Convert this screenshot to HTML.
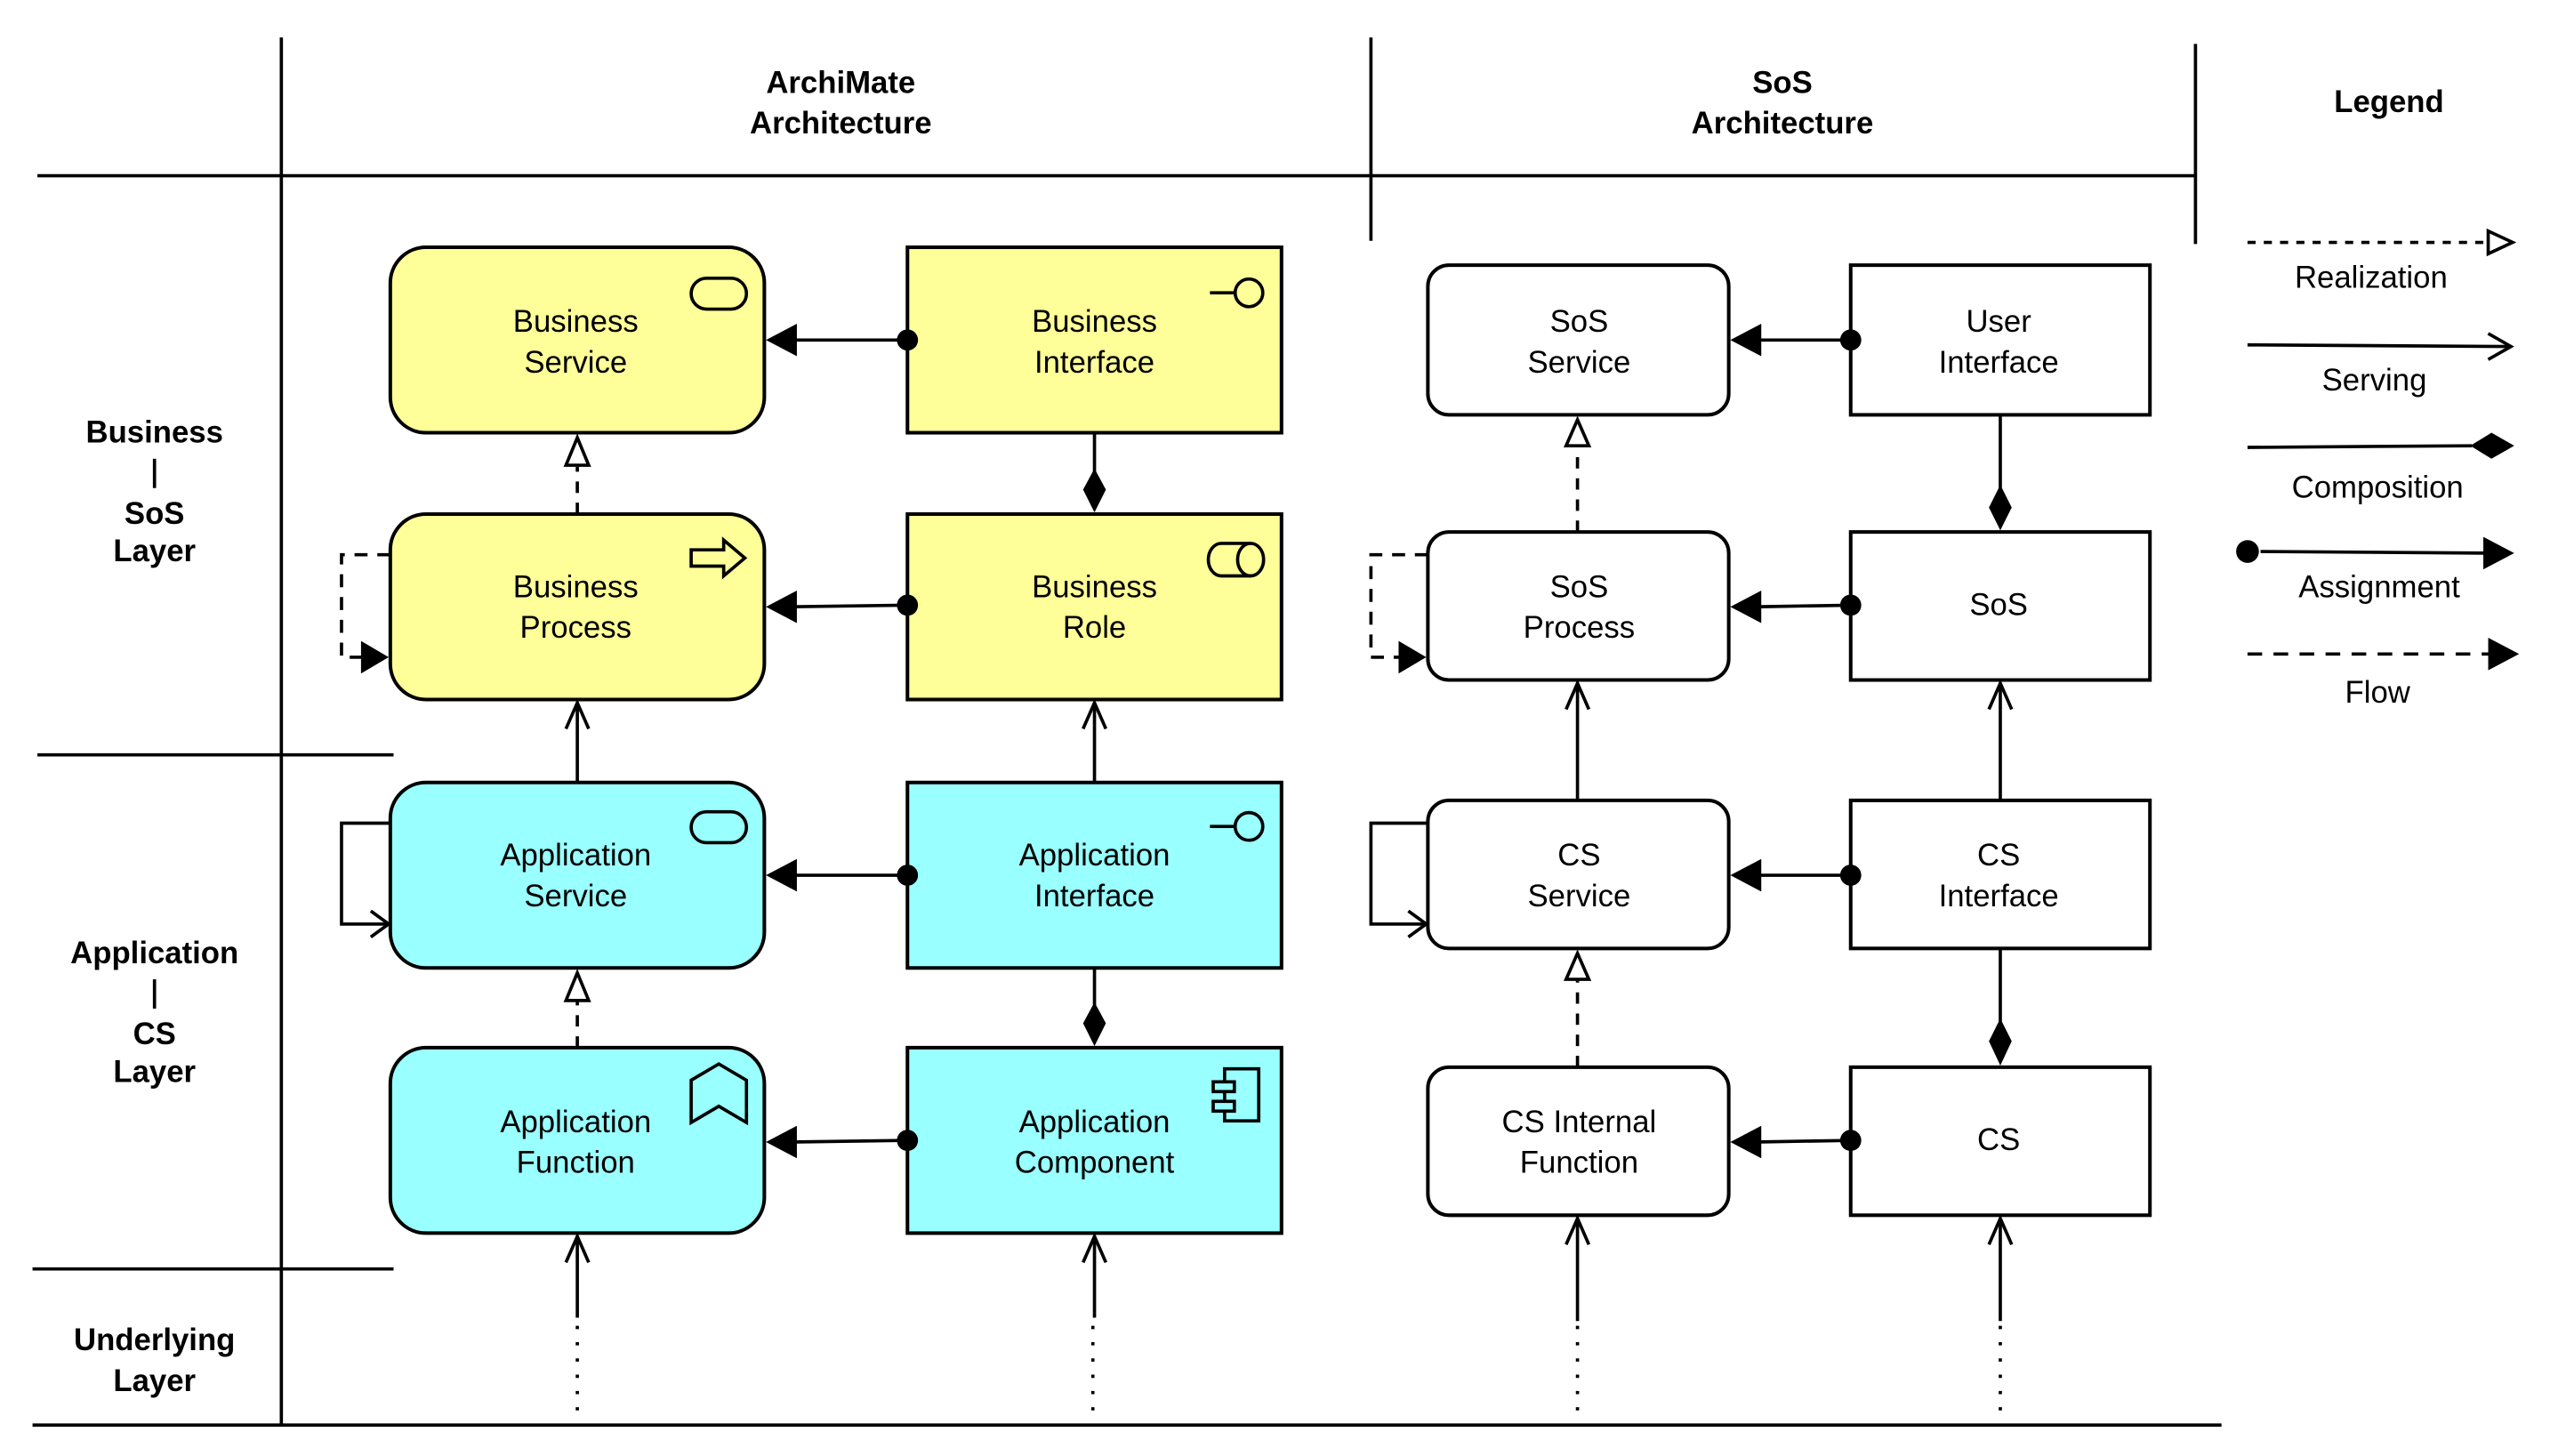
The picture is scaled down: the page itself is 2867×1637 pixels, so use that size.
<!DOCTYPE html>
<html><head><meta charset="utf-8"><style>
html,body{margin:0;padding:0;background:#fff;}
svg{display:block;}
text{font-family:"Liberation Sans",Arial,sans-serif;font-size:19px;fill:#000;text-anchor:middle;}
.b{font-weight:bold;}
</style></head><body>
<svg width="2867" height="1637" viewBox="0 0 1568 895" preserveAspectRatio="none" xmlns="http://www.w3.org/2000/svg">
<g stroke="#000" stroke-width="2" fill="none">
<!-- grid lines -->
<line x1="173" y1="23" x2="173" y2="876"/>
<line x1="843" y1="23" x2="843" y2="148"/>
<line x1="1350" y1="27" x2="1350" y2="150"/>
<line x1="23" y1="108" x2="1350" y2="108"/>
<line x1="23" y1="464" x2="242" y2="464"/>
<line x1="20" y1="780" x2="242" y2="780"/>
<line x1="20" y1="876" x2="1366" y2="876"/>
</g>
<!-- headers -->
<text class="b" x="517" y="57">ArchiMate</text>
<text class="b" x="517" y="82">Architecture</text>
<text class="b" x="1096" y="57">SoS</text>
<text class="b" x="1096" y="82">Architecture</text>
<text class="b" x="1469" y="69">Legend</text>
<text class="b" x="95" y="272">Business</text>
<line x1="95" y1="282" x2="95" y2="300" stroke="#000" stroke-width="2"/>
<text class="b" x="95" y="322">SoS</text>
<text class="b" x="95" y="345">Layer</text>
<text class="b" x="95" y="592">Application</text>
<line x1="95" y1="602" x2="95" y2="620" stroke="#000" stroke-width="2"/>
<text class="b" x="95" y="642">CS</text>
<text class="b" x="95" y="665">Layer</text>
<text class="b" x="95" y="830">Underlying</text>
<text class="b" x="95" y="855">Layer</text>

<!-- boxes -->
<g stroke="#000" stroke-width="2.2">
<rect x="240" y="152" width="230" height="114" rx="22" fill="#ffff99"/>
<rect x="558" y="152" width="230" height="114" fill="#ffff99"/>
<rect x="240" y="316" width="230" height="114" rx="22" fill="#ffff99"/>
<rect x="558" y="316" width="230" height="114" fill="#ffff99"/>
<rect x="240" y="481" width="230" height="114" rx="22" fill="#99ffff"/>
<rect x="558" y="481" width="230" height="114" fill="#99ffff"/>
<rect x="240" y="644" width="230" height="114" rx="22" fill="#99ffff"/>
<rect x="558" y="644" width="230" height="114" fill="#99ffff"/>
<rect x="878" y="163" width="185" height="92" rx="13" fill="#fff"/>
<rect x="1138" y="163" width="184" height="92" fill="#fff"/>
<rect x="878" y="327" width="185" height="91" rx="13" fill="#fff"/>
<rect x="1138" y="327" width="184" height="91" fill="#fff"/>
<rect x="878" y="492" width="185" height="91" rx="13" fill="#fff"/>
<rect x="1138" y="492" width="184" height="91" fill="#fff"/>
<rect x="878" y="656" width="185" height="91" rx="13" fill="#fff"/>
<rect x="1138" y="656" width="184" height="91" fill="#fff"/>
</g>
<!-- box text -->
<text x="354" y="204">Business</text><text x="354" y="229">Service</text>
<text x="673" y="204">Business</text><text x="673" y="229">Interface</text>
<text x="354" y="367">Business</text><text x="354" y="392">Process</text>
<text x="673" y="367">Business</text><text x="673" y="392">Role</text>
<text x="354" y="532">Application</text><text x="354" y="557">Service</text>
<text x="673" y="532">Application</text><text x="673" y="557">Interface</text>
<text x="354" y="696">Application</text><text x="354" y="721">Function</text>
<text x="673" y="696">Application</text><text x="673" y="721">Component</text>
<text x="971" y="204">SoS</text><text x="971" y="229">Service</text>
<text x="1229" y="204">User</text><text x="1229" y="229">Interface</text>
<text x="971" y="367">SoS</text><text x="971" y="392">Process</text>
<text x="1229" y="378">SoS</text>
<text x="971" y="532">CS</text><text x="971" y="557">Service</text>
<text x="1229" y="532">CS</text><text x="1229" y="557">Interface</text>
<text x="971" y="696">CS Internal</text><text x="971" y="721">Function</text>
<text x="1229" y="707">CS</text>

<!-- icons -->
<g stroke="#000" stroke-width="2" fill="none">
<rect x="425" y="171" width="34" height="19" rx="9.5"/>
<rect x="425" y="499" width="34" height="19" rx="9.5"/>
<line x1="744" y1="180" x2="759" y2="180"/><circle cx="768" cy="180" r="8.5"/>
<line x1="744" y1="508" x2="759" y2="508"/><circle cx="768" cy="508" r="8.5"/>
<path d="M425 338 h20 v-6 l13 11 l-13 11 v-6 h-20 z"/>
<path d="M751 334 h18 a8 10 0 0 1 0 20 h-18 a8 10 0 0 1 0 -20 z"/><path d="M769 334 a8 10 0 0 0 0 20"/>
<path d="M425 664 l17 -10 l17 10 v26 l-17 -10 l-17 10 z"/>
<rect x="753" y="657" width="21" height="32"/>
<rect x="746" y="665" width="13" height="6" fill="#99ffff"/>
<rect x="746" y="677" width="13" height="6" fill="#99ffff"/>
</g>

<g stroke="#000" stroke-width="2" fill="none">
<!-- assignment lines -->
<line x1="558" y1="209" x2="486" y2="209"/>
<line x1="558" y1="372" x2="486" y2="373"/>
<line x1="558" y1="538" x2="486" y2="538"/>
<line x1="558" y1="701" x2="486" y2="702"/>
<line x1="1138" y1="209" x2="1079" y2="209"/>
<line x1="1138" y1="372" x2="1079" y2="373"/>
<line x1="1138" y1="538" x2="1079" y2="538"/>
<line x1="1138" y1="701" x2="1079" y2="702"/>
<!-- composition lines -->
<line x1="673" y1="266" x2="673" y2="290"/>
<line x1="673" y1="595" x2="673" y2="618"/>
<line x1="1230" y1="255" x2="1230" y2="300"/>
<line x1="1230" y1="583" x2="1230" y2="628"/>
<!-- realization -->
<line x1="355" y1="316" x2="355" y2="287" stroke-dasharray="7,6"/>
<line x1="355" y1="644" x2="355" y2="615" stroke-dasharray="7,6"/>
<line x1="970" y1="327" x2="970" y2="275" stroke-dasharray="7,6"/>
<line x1="970" y1="656" x2="970" y2="603" stroke-dasharray="7,6"/>
<!-- serving -->
<line x1="355" y1="481" x2="355" y2="432"/>
<line x1="673" y1="481" x2="673" y2="432"/>
<line x1="970" y1="492" x2="970" y2="420"/>
<line x1="1230" y1="492" x2="1230" y2="420"/>
<line x1="355" y1="810" x2="355" y2="760"/>
<line x1="673" y1="810" x2="673" y2="760"/>
<line x1="970" y1="812" x2="970" y2="749"/>
<line x1="1230" y1="812" x2="1230" y2="749"/>
<!-- dotted -->
<g stroke-dasharray="2,8">
<line x1="355" y1="815" x2="355" y2="870"/>
<line x1="672" y1="815" x2="672" y2="870"/>
<line x1="970" y1="815" x2="970" y2="870"/>
<line x1="1230" y1="815" x2="1230" y2="870"/>
</g>
<!-- open arrowheads up -->
<path d="M348 448 L355 432 L362 448"/>
<path d="M666 448 L673 432 L680 448"/>
<path d="M963 436 L970 420 L977 436"/>
<path d="M1223 436 L1230 420 L1237 436"/>
<path d="M348 776 L355 760 L362 776"/>
<path d="M666 776 L673 760 L680 776"/>
<path d="M963 765 L970 749 L977 765"/>
<path d="M1223 765 L1230 749 L1237 765"/>
<!-- self loops -->
<path d="M240 341 H210 V404 H226" stroke-dasharray="8,6"/>
<path d="M878 341 H843 V404 H862" stroke-dasharray="8,6"/>
<path d="M240 506 H210 V568 H238"/>
<path d="M228 560 L239 568 L228 576"/>
<path d="M878 506 H843 V568 H876"/>
<path d="M866 560 L877 568 L866 576"/>
</g>
<!-- filled heads -->
<g fill="#000" stroke="none">
<circle cx="558" cy="209" r="6.5"/><circle cx="558" cy="372" r="6.5"/>
<circle cx="558" cy="538" r="6.5"/><circle cx="558" cy="701" r="6.5"/>
<circle cx="1138" cy="209" r="6.5"/><circle cx="1138" cy="372" r="6.5"/>
<circle cx="1138" cy="538" r="6.5"/><circle cx="1138" cy="701" r="6.5"/>
<path d="M471 209 L490 199 L490 219 z"/><path d="M471 373 L490 363 L490 383 z"/>
<path d="M471 538 L490 528 L490 548 z"/><path d="M471 702 L490 692 L490 712 z"/>
<path d="M1064 209 L1083 199 L1083 219 z"/><path d="M1064 373 L1083 363 L1083 383 z"/>
<path d="M1064 538 L1083 528 L1083 548 z"/><path d="M1064 702 L1083 692 L1083 712 z"/>
<path d="M673 288 L680 301 L673 315 L666 301 z"/>
<path d="M673 616 L680 629 L673 643 L666 629 z"/>
<path d="M1230 298 L1237 312 L1230 326 L1223 312 z"/>
<path d="M1230 626 L1237 640 L1230 655 L1223 640 z"/>
<path d="M239 404 L222 394 L222 414 z"/>
<path d="M877 404 L860 394 L860 414 z"/>
</g>
<g fill="#fff" stroke="#000" stroke-width="2">
<path d="M355 269 L362 286 L348 286 z"/>
<path d="M355 598 L362 615 L348 615 z"/>
<path d="M970 258 L977 274 L963 274 z"/>
<path d="M970 586 L977 602 L963 602 z"/>
</g>

<!-- legend -->
<g stroke="#000" stroke-width="2" fill="none">
<line x1="1382" y1="149" x2="1530" y2="149" stroke-dasharray="5,5"/>
<path d="M1530 142 L1545 149 L1530 156 z" fill="#fff"/>
<line x1="1382" y1="212" x2="1544" y2="213"/>
<path d="M1530 205 L1544 213 L1530 221"/>
<line x1="1382" y1="275" x2="1520" y2="274"/>
<line x1="1390" y1="339" x2="1530" y2="340"/>
<line x1="1382" y1="402" x2="1532" y2="402" stroke-dasharray="9,7"/>
</g>
<g fill="#000">
<path d="M1519 274 L1532 266 L1546 274 L1532 282 z"/>
<circle cx="1382" cy="339" r="7"/>
<path d="M1546 340 L1527 330 L1527 350 z"/>
<path d="M1549 402 L1530 392 L1530 412 z"/>
</g>
<text x="1458" y="177">Realization</text>
<text x="1460" y="240">Serving</text>
<text x="1462" y="306">Composition</text>
<text x="1463" y="367">Assignment</text>
<text x="1462" y="432">Flow</text>
</svg>
</body></html>
